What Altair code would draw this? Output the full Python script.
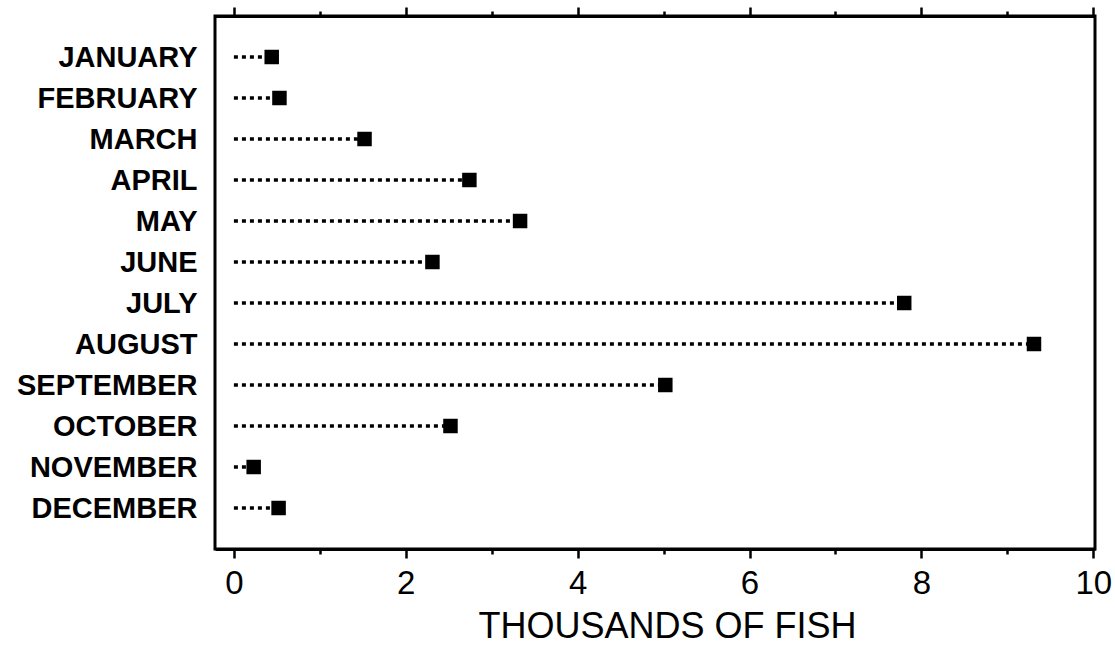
import altair as alt
import pandas as pd

months = ["JANUARY", "FEBRUARY", "MARCH", "APRIL", "MAY", "JUNE", "JULY",
          "AUGUST", "SEPTEMBER", "OCTOBER", "NOVEMBER", "DECEMBER"]
fish_thousands = [0.44, 0.53, 1.52, 2.74, 3.33, 2.31, 7.80, 9.31, 5.02, 2.52, 0.23, 0.52]
x_tick_values = [0, 1, 2, 3, 4, 5, 6, 7, 8, 9, 10]

df = pd.DataFrame({"month": months, "fish": fish_thousands})

FONT = "Liberation Sans"

xscale = alt.Scale(domain=[-0.22, 10.02], nice=False, zero=False)
ysort = months

tick_size = {"condition": {"test": "datum.value % 2 === 0", "value": 9}, "value": 5}

y_enc = alt.Y(
    "month:N", sort=ysort,
    scale=alt.Scale(type="point", padding=1),
    axis=alt.Axis(title=None, ticks=False, tickSize=0, domain=False,
                  labelFont=FONT, labelFontSize=29, labelFontWeight="bold",
                  labelColor="black", labelPadding=18, labelLimit=300),
)

bottom_axis = alt.Axis(
    orient="bottom", values=x_tick_values,
    labelExpr="datum.value % 2 === 0 ? datum.label : ''",
    tickSize=tick_size, tickWidth=2.5, tickColor="black",
    domainColor="black", domainWidth=3,
    labelFont=FONT, labelFontSize=33, labelColor="black", labelPadding=9,
    labelFlush=False,
    title="THOUSANDS OF FISH", titleFont=FONT, titleFontSize=36,
    titleFontWeight="normal", titleColor="black", titlePadding=9,
    titleX=452, titleAnchor="middle",
    grid=False,
)

top_axis = alt.Axis(
    orient="top", values=x_tick_values, labels=False, title=None,
    tickSize=tick_size, tickWidth=2.5, tickColor="black",
    domainColor="black", domainWidth=3, grid=False,
)

base = alt.Chart(df)

rules = base.transform_calculate(zero="0").mark_rule(
    strokeDash=[4, 4], strokeWidth=3.5, color="black", strokeCap="butt"
).encode(
    x=alt.X("zero:Q", scale=xscale, axis=bottom_axis),
    x2="fish:Q",
    y=y_enc,
)

points = base.mark_square(size=210, color="black", opacity=1, filled=True).encode(
    x=alt.X("fish:Q", scale=xscale, axis=top_axis),
    y=y_enc,
)

chart = alt.layer(rules, points).resolve_axis(x="independent").properties(
    width=880, height=533,
    autosize=alt.AutoSizeParams(type="none"),
    padding={"left": 215, "top": 16, "right": 20, "bottom": 98},
    background="white",
).configure_view(stroke="black", strokeWidth=3)

chart.save("out.html", embed_options={"renderer": "svg", "actions": False})
